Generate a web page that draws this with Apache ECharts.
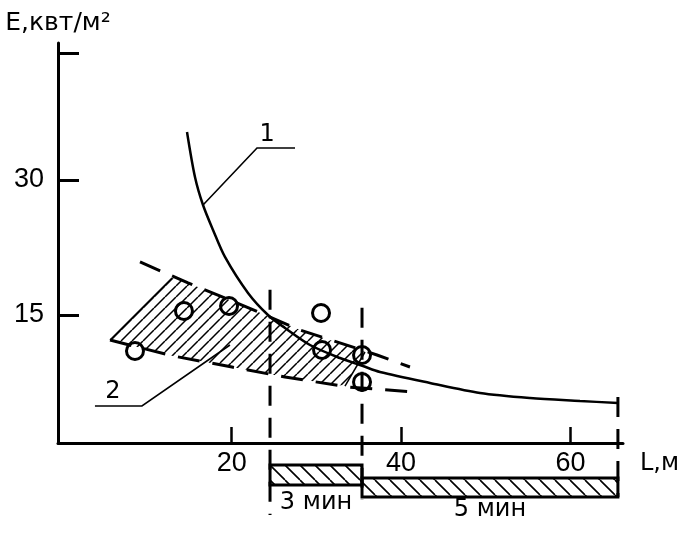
<!DOCTYPE html>
<html><head><meta charset="utf-8">
<script src="https://cdn.jsdelivr.net/npm/echarts@6/dist/echarts.min.js"></script>
<style>html,body{margin:0;padding:0;background:#fff}#c{width:685px;height:557px}</style>
</head><body><div id="c"></div>
<script>
// ---------- data ----------
const xTickValues = [20, 40, 60];
const yTickValues = [15, 30];
const yExtraTick = [44.1];
const curve1 = [[14.73,35.34],[15.67,30.34],[16.62,27.22],[17.80,24.45],[19.21,21.45],[21.93,17.45],[24.29,15.0],[26.30,13.56],[29.25,11.67],[32.79,10.22],[35.5,9.33],[37.51,8.67],[43.41,7.45],[49.32,6.34],[55.22,5.78],[61.12,5.45],[65.6,5.22]];
const bandUpper = [[9.18,20.89],[14.85,18.56],[21.22,16.11],[28.07,13.34],[37.16,10.56],[41.05,9.22]];
const bandLower = [[5.64,12.22],[13.08,10.45],[20.04,9.22],[26.30,8.11],[33.73,7.0],[41.64,6.45]];
const hatchedZone = [[5.64,12.22],[12.96,19.11],[14.85,18.56],[21.22,16.11],[28.07,13.34],[35.74,10.89],[33.38,7.11],[26.30,8.11],[20.04,9.22],[13.08,10.45]];
const measured = [[8.59,11.0],[14.37,15.45],[19.69,16.0],[30.55,15.22],[30.67,11.11],[35.39,10.56],[35.39,7.56]];
const markerX = [24.53, 35.39, 65.6];
const markerTop = [17.8, 15.8, 5.9];
const intervalStart = [24.53, 35.39];
const intervalEnd = [35.39, 65.6];
const intervalLabels = ['3 мин', '5 мин'];
const calloutAt = [[16.62,27.22],[19.8,11.67]];
const calloutLabels = ['1', '2'];

// ---------- layout / style ----------
const X_MIN = -0.5, X_MAX = 66.2, Y_MIN = 0.78, Y_MAX = 45.22;
const DIGITS = "'Liberation Sans',sans-serif";
const WIDE = "'DejaVu Sans',sans-serif";

function hatch(size, dir, lw) {
  const c = document.createElement('canvas');
  c.width = size; c.height = size;
  const g = c.getContext('2d');
  g.strokeStyle = '#000'; g.lineWidth = lw;
  g.beginPath();
  for (let k = -1; k <= 1; k++) {
    if (dir > 0) { g.moveTo(k*size, size); g.lineTo(k*size + size, 0); }
    else { g.moveTo(k*size, 0); g.lineTo(k*size + size, size); }
  }
  g.stroke();
  return { image: c, repeat: 'repeat' };
}
const bandPattern = hatch(11, 1, 1.5);
const barPattern = hatch(15, -1, 1.6);

const chart = echarts.init(document.getElementById('c'), null, { renderer: 'canvas' });

const bottomOffsets = [72, 57, 54];
const barTops = [22, 35], barHeights = [20, 19], labelGaps = [18, 13];
const calloutGeom = [
  { elbow: [54, -57], end: [92, -57], label: [64, -70] },
  { elbow: [-88, 61], end: [-135, 61], label: [-117, 47] }
];

chart.setOption({
  animation: false,
  backgroundColor: '#fff',
  grid: { left: 58, right: 62, top: 43, bottom: 114, containLabel: false },
  xAxis: {
    type: 'value', min: X_MIN, max: X_MAX,
    name: 'L,м', nameLocation: 'end', nameGap: 17,
    nameTextStyle: { fontFamily: WIDE, fontSize: 24, color: '#000', verticalAlign: 'top', padding: [9, 0, 0, 0] },
    axisLine: { show: true, onZero: false, lineStyle: { color: '#000', width: 3 } },
    axisTick: { show: true, inside: true, length: 16, customValues: xTickValues, lineStyle: { color: '#000', width: 2.5 } },
    axisLabel: { customValues: xTickValues, fontFamily: DIGITS, fontSize: 27, color: '#000', margin: 7 },
    splitLine: { show: false }
  },
  yAxis: {
    type: 'value', min: Y_MIN, max: Y_MAX,
    name: 'Е,квт/м²', nameLocation: 'end', nameGap: 7,
    nameTextStyle: { fontFamily: WIDE, fontSize: 25, color: '#000', align: 'center' },
    axisLine: { show: true, onZero: false, lineStyle: { color: '#000', width: 3 } },
    axisTick: { show: true, inside: true, length: 21, customValues: yTickValues.concat(yExtraTick), lineStyle: { color: '#000', width: 3 } },
    axisLabel: { customValues: yTickValues, fontFamily: DIGITS, fontSize: 27, color: '#000', margin: 29, align: 'center' },
    splitLine: { show: false }
  },
  series: [
    {
      type: 'custom', name: 'zone', clip: false, z: 1,
      data: [hatchedZone[0]], encode: { x: 0, y: 1 },
      renderItem: function (params, api) {
        const pts = hatchedZone.map(p => api.coord(p));
        return { type: 'group', children: [
          { type: 'polygon', shape: { points: pts }, style: { fill: bandPattern, stroke: null } },
          { type: 'line', shape: { x1: pts[0][0], y1: pts[0][1], x2: pts[1][0], y2: pts[1][1] }, style: { stroke: '#000', lineWidth: 1.5 } },
          { type: 'line', shape: { x1: pts[5][0], y1: pts[5][1], x2: pts[6][0], y2: pts[6][1] }, style: { stroke: '#000', lineWidth: 1.5 } }
        ] };
      }
    },
    {
      type: 'line', name: 'upper', data: bandUpper, showSymbol: false, z: 3,
      lineStyle: { color: '#000', width: 3, type: [22, 13] }
    },
    {
      type: 'line', name: 'lower', data: bandLower, showSymbol: false, z: 3,
      lineStyle: { color: '#000', width: 3, type: [22, 13] }
    },
    {
      type: 'line', name: 'curve1', data: curve1, showSymbol: false, smooth: 0.3, z: 4,
      lineStyle: { color: '#000', width: 2.5 }
    },
    {
      type: 'scatter', name: 'measured', data: measured, symbol: 'circle', symbolSize: 17, z: 5,
      itemStyle: { color: 'rgba(0,0,0,0)', borderColor: '#000', borderWidth: 3, opacity: 1 }
    },
    {
      type: 'custom', name: 'markers', clip: false, z: 4,
      data: markerX.map((x, i) => [x, markerTop[i]]), encode: { x: 0, y: 1 },
      renderItem: function (params, api) {
        const top = api.coord([api.value(0), api.value(1)]);
        const base = api.coord([api.value(0), Y_MIN]);
        return { type: 'line', shape: { x1: top[0], y1: top[1], x2: top[0], y2: base[1] + bottomOffsets[params.dataIndex] },
          style: { stroke: '#000', lineWidth: 3, lineDash: [20, 12] } };
      }
    },
    {
      type: 'custom', name: 'intervals', clip: false, z: 4,
      data: intervalStart.map((s, i) => [s, intervalEnd[i]]), encode: { x: [0, 1] },
      renderItem: function (params, api) {
        const i = params.dataIndex;
        const a = api.coord([api.value(0), Y_MIN]);
        const b = api.coord([api.value(1), Y_MIN]);
        const y0 = a[1] + barTops[i];
        return { type: 'group', children: [
          { type: 'rect', shape: { x: a[0], y: y0, width: b[0] - a[0], height: barHeights[i] },
            style: { fill: barPattern, stroke: '#000', lineWidth: 3 } },
          { type: 'text', x: (a[0] + b[0]) / 2, y: y0 + barHeights[i] + labelGaps[i],
            style: { text: intervalLabels[i], fill: '#000', fontSize: 24, fontFamily: WIDE, align: 'center', verticalAlign: 'middle' } }
        ] };
      }
    },
    {
      type: 'custom', name: 'callouts', clip: false, z: 6,
      data: calloutAt, encode: { x: 0, y: 1 },
      renderItem: function (params, api) {
        const i = params.dataIndex, g = calloutGeom[i];
        const p = api.coord([api.value(0), api.value(1)]);
        return { type: 'group', children: [
          { type: 'polyline', shape: { points: [p, [p[0] + g.elbow[0], p[1] + g.elbow[1]], [p[0] + g.end[0], p[1] + g.end[1]]] },
            style: { stroke: '#000', lineWidth: 1.6, fill: null } },
          { type: 'text', x: p[0] + g.label[0], y: p[1] + g.label[1],
            style: { text: calloutLabels[i], fill: '#000', fontSize: 24, fontFamily: WIDE, align: 'center', verticalAlign: 'middle' } }
        ] };
      }
    }
  ]
});
</script>
</body></html>
